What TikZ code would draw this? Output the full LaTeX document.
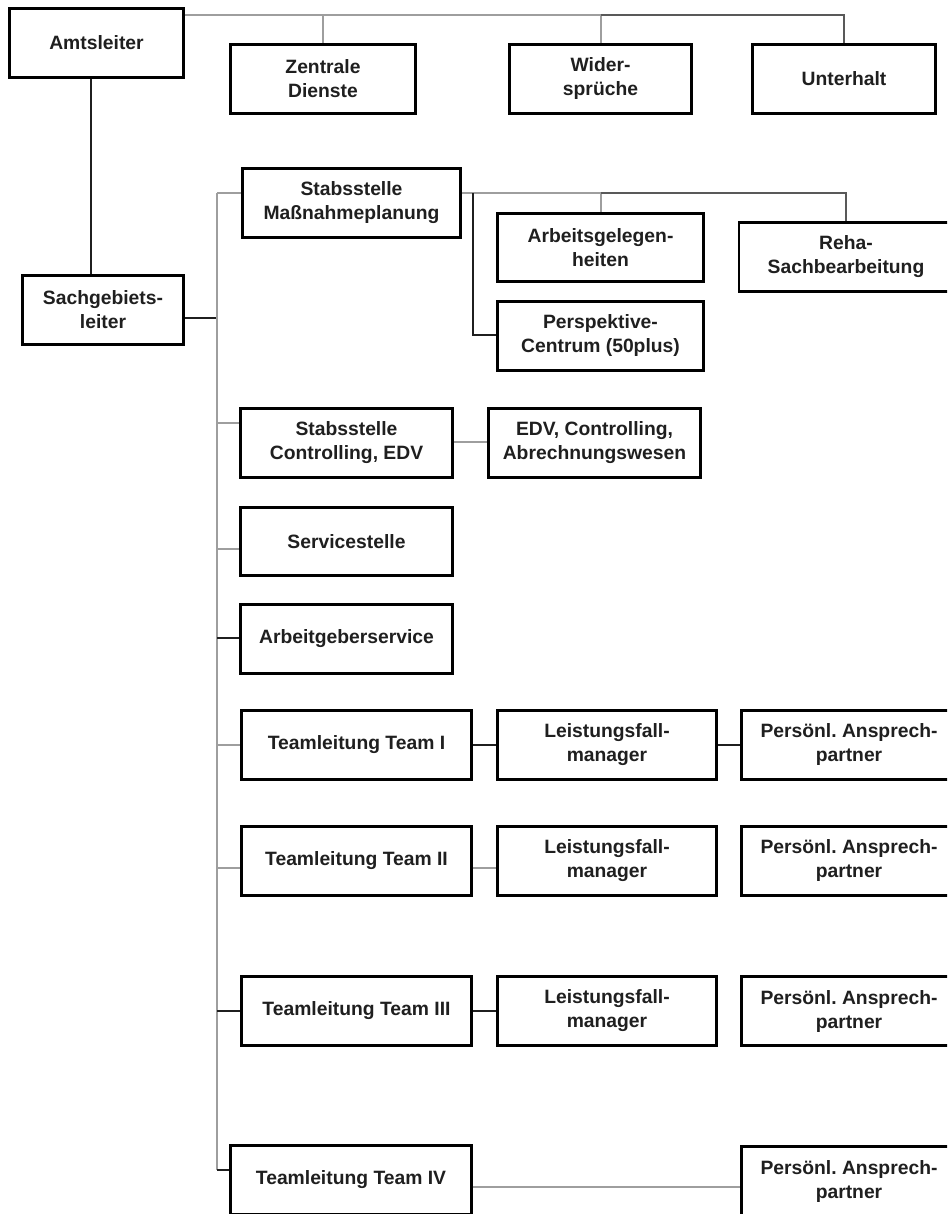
\documentclass[tikz,border=0pt]{standalone}
\usepackage{fontspec}
\setmainfont{Liberation Sans}
\frenchspacing
\begin{document}
\begin{tikzpicture}[x=1pt,y=-1pt,
  box/.style={draw=black,line width=2.9pt,fill=white,inner sep=0pt,align=center,
    font=\fontsize{19.3}{24}\selectfont\bfseries,text=black!88},
  gl/.style={draw=black!38,line width=2pt},
  dl/.style={draw=black!65,line width=1.8pt},
  bl/.style={draw=black!88,line width=1.8pt}]
\path[use as bounding box] (0,0) rectangle (947,1214);
\clip (0,0) rectangle (947,1214);
% nodes (center x, center y, size)
\node[box,minimum width=174pt,minimum height=69pt] (amt) at (96.5,43) {Amtsleiter};
\node[box,minimum width=185pt,minimum height=69pt] (zd) at (323,79) {Zentrale\\Dienste};
\node[box,minimum width=182pt,minimum height=69pt] (wid) at (600.5,79) {Wider-\\sprüche};
\node[box,minimum width=183pt,minimum height=69pt] (unt) at (844,79) {Unterhalt};
\node[box,minimum width=161pt,minimum height=69pt] (sgl) at (103,310) {Sachgebiets-\\leiter};
\node[box,minimum width=218pt,minimum height=69pt] (smp) at (351.5,203) {Stabsstelle\\Maßnahmeplanung};
\node[box,minimum width=206pt,minimum height=68pt] (arb) at (600.5,247.5) {Arbeitsgelegen-\\heiten};
\node[box,minimum width=214pt,minimum height=69pt] (reha) at (846,257) {Reha-\\Sachbearbeitung};
\node[box,minimum width=206pt,minimum height=69pt] (persp) at (600.5,336) {Perspektive-\\Centrum (50plus)};
\node[box,minimum width=212pt,minimum height=69pt] (sce) at (346.5,443) {Stabsstelle\\Controlling, EDV};
\node[box,minimum width=212pt,minimum height=69pt] (edv) at (594.5,443) {EDV, Controlling,\\Abrechnungswesen};
\node[box,minimum width=212pt,minimum height=68pt] (svc) at (346.5,541.5) {Servicestelle};
\node[box,minimum width=212pt,minimum height=69pt] (ags) at (346.5,639) {Arbeitgeberservice};
\node[box,minimum width=230pt,minimum height=69pt] (tl1) at (356.5,745) {Teamleitung Team I};
\node[box,minimum width=219pt,minimum height=69pt] (lm1) at (607,745) {Leistungsfall-\\manager};
\node[box,minimum width=215pt,minimum height=69pt] (pa1) at (849,745) {Persönl. Ansprech-\\partner};
\node[box,minimum width=230pt,minimum height=69pt] (tl2) at (356.5,861) {Teamleitung Team II};
\node[box,minimum width=219pt,minimum height=69pt] (lm2) at (607,861) {Leistungsfall-\\manager};
\node[box,minimum width=215pt,minimum height=69pt] (pa2) at (849,861) {Persönl. Ansprech-\\partner};
\node[box,minimum width=230pt,minimum height=69pt] (tl3) at (356.5,1011) {Teamleitung Team III};
\node[box,minimum width=219pt,minimum height=69pt] (lm3) at (607,1011) {Leistungsfall-\\manager};
\node[box,minimum width=215pt,minimum height=69pt] (pa3) at (849,1011) {Persönl. Ansprech-\\partner};
\node[box,minimum width=241pt,minimum height=69pt] (tl4) at (351,1180) {Teamleitung Team IV};
\node[box,minimum width=215pt,minimum height=69pt] (pa4) at (849,1181) {Persönl. Ansprech-\\partner};
% helper coordinates
\coordinate (top) at (0,15);
\coordinate (av) at (91,0);
\coordinate (tr) at (217,0);
\coordinate (sv) at (473,0);
% top level
\draw[gl] (amt.east |- top) -- (wid.north |- top);
\draw[gl] (zd.north) -- (zd.north |- top);
\draw[gl] (wid.north) -- (wid.north |- top);
\draw[dl] (wid.north |- top) -| (unt.north);
\draw[bl] (amt.south -| av) -- (sgl.north -| av);
% Sachgebietsleiter to trunk
\draw[bl] (sgl.east |- 0,318) -- (tr |- 0,318);
\draw[gl] (tr |- 0,193) -- (tr |- 0,1170);
\draw[bl] (tr |- 0,1170) -- (tl4.west |- 0,1170);
\draw[gl] (tr |- 0,193) -- (smp.west |- 0,193);
\draw[gl] (tr |- 0,423) -- (sce.west |- 0,423);
\draw[gl] (tr |- 0,549) -- (svc.west |- 0,549);
\draw[bl] (tr |- 0,638) -- (ags.west |- 0,638);
\draw[gl] (tr |- tl1.west) -- (tl1.west);
\draw[gl] (tr |- 0,868) -- (tl2.west |- 0,868);
\draw[bl] (tr |- tl3.west) -- (tl3.west);
% Stabsstelle Massnahmeplanung branches
\draw[gl] (smp.east |- 0,193) -- (arb.north |- 0,193);
\draw[gl] (arb.north) -- (arb.north |- 0,193);
\draw[dl] (arb.north |- 0,193) -| (reha.north);
\draw[bl] (sv |- 0,193) -- (sv |- 0,335) -- (persp.west |- 0,335);
% Controlling
\draw[gl] (sce.east |- 0,442) -- (edv.west |- 0,442);
% Teams
\draw[bl] (tl1.east) -- (lm1.west);
\draw[bl] (lm1.east) -- (pa1.west);
\draw[gl] (tl2.east |- 0,868) -- (lm2.west |- 0,868);
\draw[bl] (tl3.east) -- (lm3.west);
\draw[gl] (tl4.east |- 0,1187) -- (pa4.west |- 0,1187);
\end{tikzpicture}
\end{document}
